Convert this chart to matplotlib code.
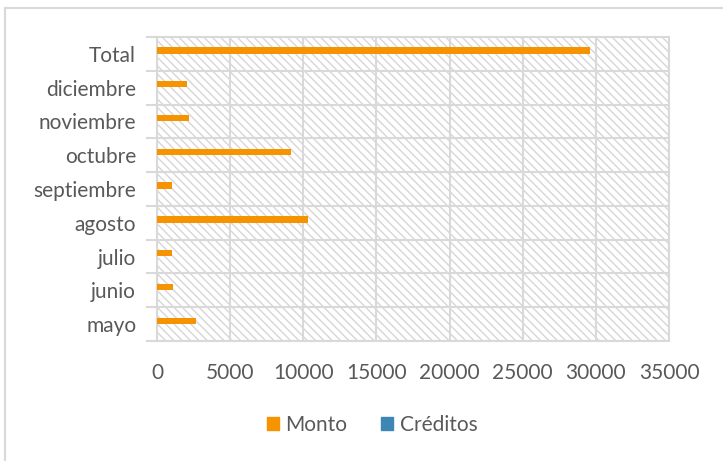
import matplotlib.pyplot as plt
from matplotlib.lines import Line2D
from matplotlib.patches import Patch
import numpy as np

plt.rcParams['font.family'] = ['Lato', 'DejaVu Sans']
plt.rcParams['hatch.color'] = '#d6d6d6'
plt.rcParams['hatch.linewidth'] = 1.0

# Datos (de abajo hacia arriba)
meses = ['mayo', 'junio', 'julio', 'agosto', 'septiembre', 'octubre',
         'noviembre', 'diciembre', 'Total']
monto = [2640, 1090, 1050, 10340, 1050, 9160, 2190, 2070, 29600]
creditos = [0, 0, 0, 0, 0, 0, 0, 0, 0]
xticks = [0, 5000, 10000, 15000, 20000, 25000, 30000, 35000]

naranja = '#f59300'
azul = '#3d87b5'
gris = '#d9d9d9'
texto = '#595959'

fig = plt.figure(figsize=(7.23, 4.61), dpi=100)
ax = fig.add_axes([157 / 723, 1 - 341 / 461, 512 / 723, 304 / 461])

# fondo rayado
ax.patch.set_facecolor('white')
ax.patch.set_hatch('\\\\\\\\')
ax.patch.set_edgecolor('#d6d6d6')
ax.patch.set_linewidth(0)

y = np.arange(len(meses))
ax.barh(y + 0.1, monto, height=0.19, color=naranja, zorder=3)
ax.barh(y - 0.1, creditos, height=0.19, color=azul, zorder=3)

ax.set_xlim(0, 35000)
ax.set_ylim(-0.5, len(meses) - 0.5)
ax.set_xticks(xticks)
ax.set_xticklabels([str(v) for v in xticks])
ax.set_yticks(np.arange(-0.5, len(meses)), labels=[''] * (len(meses) + 1))
ax.set_yticks(y, labels=meses, minor=True)

ax.grid(True, which='major', color=gris, linewidth=1.5, zorder=1)
ax.set_axisbelow(True)
for s in ax.spines.values():
    s.set_color(gris)
    s.set_linewidth(1.5)

ax.tick_params(axis='x', length=0, pad=16, labelsize=15, labelcolor=texto)
ax.tick_params(axis='y', which='major', length=8, width=1.5, color=gris)
ax.tick_params(axis='y', which='minor', length=0, pad=15, labelsize=15,
               labelcolor=texto)

handles = [Patch(color=naranja, label='Monto'), Patch(color=azul, label='Créditos')]
fig.legend(handles=handles, loc='center', bbox_to_anchor=(372 / 723, 1 - 425 / 461),
           ncol=2, frameon=False, fontsize=15, labelcolor=texto,
           handlelength=0.6, handleheight=0.6, handletextpad=0.3, columnspacing=1.6)

# borde exterior del gráfico
fig.add_artist(Line2D([5 / 723, 5 / 723], [0, 1 - 8 / 461], transform=fig.transFigure,
                      color=gris, linewidth=1.5))
fig.add_artist(Line2D([5 / 723, 1], [1 - 8 / 461, 1 - 8 / 461], transform=fig.transFigure,
                      color=gris, linewidth=1.5))

fig.savefig('out.png', dpi=100)
